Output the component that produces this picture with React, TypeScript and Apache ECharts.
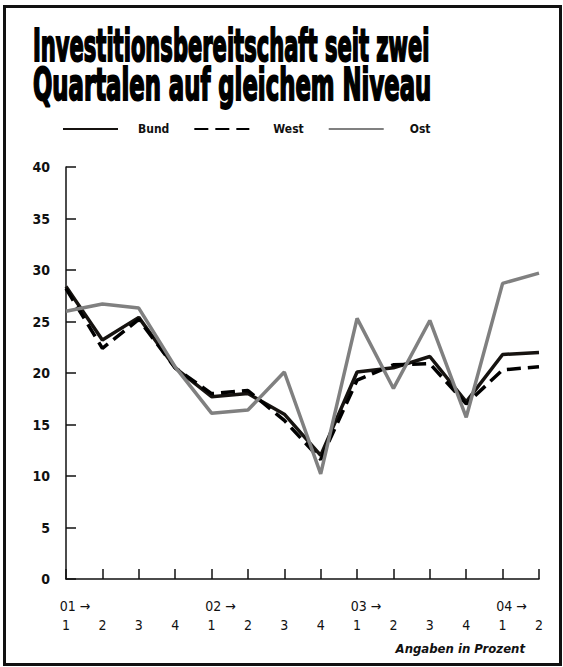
import React, { useEffect, useRef } from "react";
import * as echarts from "echarts";

const quarters = ["1", "2", "3", "4", "1", "2", "3", "4", "1", "2", "3", "4", "1", "2"];
const years = ["01", "", "", "", "02", "", "", "", "03", "", "", "", "04", ""];
const bund = [28.4, 23.2, 25.4, 20.5, 17.7, 18.0, 16.0, 12.0, 20.1, 20.5, 21.6, 17.2, 21.8, 22.0];
const west = [28.2, 22.4, 25.2, 20.5, 18.0, 18.3, 15.4, 11.6, 19.3, 20.8, 20.9, 17.0, 20.3, 20.6];
const ost = [26.0, 26.7, 26.3, 20.6, 16.1, 16.4, 20.1, 10.2, 25.3, 18.5, 25.1, 15.7, 28.7, 29.7];

const titleLines = ["Investitionsbereitschaft seit zwei", "Quartalen auf gleichem Niveau"];
const sourceNote = "Angaben in Prozent";

const FONT = "'DejaVu Sans Condensed', 'DejaVu Sans', sans-serif";

export default function App() {
  const ref = useRef<HTMLDivElement>(null);
  useEffect(() => {
    if (!ref.current) return;
    const chart = echarts.init(ref.current, null, { renderer: "svg" });
    const option: any = {
      animation: false,
      backgroundColor: "#ffffff",
      grid: { left: 66, right: 24, top: 167, bottom: 88, containLabel: false },
      legend: {
        top: 118,
        left: 57,
        itemWidth: 55,
        itemHeight: 14,
        itemGap: 24,
        itemStyle: { opacity: 0 },
        textStyle: {
          fontFamily: FONT,
          fontWeight: "bold",
          fontSize: 12,
          color: "#111",
        },
        data: [
          { name: "Bund", textStyle: { padding: [0, 0, 0, 15] } },
          { name: "West", textStyle: { padding: [0, 0, 0, 19] } },
          { name: "Ost", textStyle: { padding: [0, 0, 0, 21] } },
        ],
      },
      xAxis: {
        type: "category",
        data: quarters,
        boundaryGap: false,
        axisLine: { lineStyle: { color: "#111", width: 1.5 } },
        axisTick: { inside: true, length: 10, lineStyle: { color: "#111", width: 1.5 } },
        axisLabel: {
          interval: 0,
          margin: 17,
          formatter: (v: string, i: number) =>
            years[i]
              ? `{y|${years[i]} \u2192}\n{q|${v}}`
              : `{e| }\n{q|${v}}`,
          rich: {
            y: {
              fontFamily: FONT,
              fontSize: 14,
              color: "#111",
              lineHeight: 19,
              padding: [0, 0, 0, 18],
              align: "left",
            },
            e: { fontFamily: FONT, fontSize: 14, lineHeight: 19 },
            q: {
              fontFamily: FONT,
              fontSize: 14,
              color: "#111",
              lineHeight: 19,
              align: "center",
            },
          },
        },
        splitLine: { show: false },
      },
      yAxis: {
        type: "value",
        min: 0,
        max: 40,
        interval: 5,
        axisLine: { show: true, lineStyle: { color: "#111", width: 1.5 } },
        axisTick: { show: true, inside: true, length: 10, lineStyle: { color: "#111", width: 1.5 } },
        axisLabel: {
          margin: 16,
          fontFamily: FONT,
          fontWeight: "bold",
          fontSize: 14,
          color: "#111",
        },
        splitLine: { show: false },
      },
      series: [
        {
          name: "Bund",
          type: "line",
          data: bund,
          symbol: "none",
          lineStyle: { color: "#161310", width: 3.5 },
          itemStyle: { color: "#161310" },
        },
        {
          name: "West",
          type: "line",
          data: west,
          symbol: "none",
          lineStyle: { color: "#000", width: 3.5, type: [14, 7] },
          itemStyle: { color: "#000" },
        },
        {
          name: "Ost",
          type: "line",
          data: ost,
          symbol: "none",
          lineStyle: { color: "#808080", width: 3.5 },
          itemStyle: { color: "#808080" },
        },
      ],
      graphic: [
        {
          type: "rect",
          left: 3,
          top: 5,
          z: 100,
          shape: { width: 556, height: 658 },
          style: { fill: "rgba(0,0,0,0)", stroke: "#111", lineWidth: 3 },
        },
        {
          type: "text",
          x: 33,
          y: 45,
          scaleX: 0.52,
          style: {
            text: titleLines[0],
            fontFamily: FONT,
            fontWeight: "bold",
            fontSize: 45,
            fill: "#000",
            stroke: "#000",
            lineWidth: 2,
            verticalAlign: "middle",
          },
        },
        {
          type: "text",
          x: 33,
          y: 85,
          scaleX: 0.563,
          style: {
            text: titleLines[1],
            fontFamily: FONT,
            fontWeight: "bold",
            fontSize: 45,
            fill: "#000",
            stroke: "#000",
            lineWidth: 2,
            verticalAlign: "middle",
          },
        },
        {
          type: "text",
          x: 525,
          y: 648,
          style: {
            text: sourceNote,
            fontFamily: FONT,
            fontWeight: "bold",
            fontStyle: "italic",
            fontSize: 13,
            fill: "#111",
            align: "right",
            verticalAlign: "middle",
          },
        },
      ],
    };
    chart.setOption(option);
    return () => chart.dispose();
  }, []);
  return (
    <div
      ref={ref}
      style={{ position: "fixed", left: 0, top: 0, width: 563, height: 667 }}
    />
  );
}
